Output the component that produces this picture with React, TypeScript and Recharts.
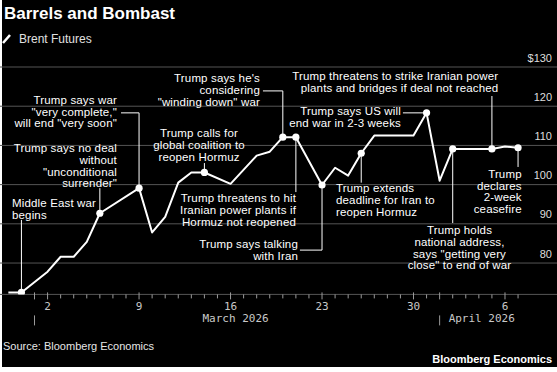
import React from 'react';
import { LineChart, Line, XAxis, YAxis, CartesianGrid, ReferenceLine, ReferenceDot } from 'recharts';

// ---- data ----
const dates = [
  '2026-02-27', '2026-02-28', '2026-03-02', '2026-03-03', '2026-03-04', '2026-03-05', '2026-03-06',
  '2026-03-09', '2026-03-10', '2026-03-11', '2026-03-12', '2026-03-13', '2026-03-14', '2026-03-16',
  '2026-03-18', '2026-03-19', '2026-03-20', '2026-03-21', '2026-03-23', '2026-03-24', '2026-03-25',
  '2026-03-26', '2026-03-27', '2026-03-30', '2026-03-31', '2026-04-01', '2026-04-02', '2026-04-05',
  '2026-04-06', '2026-04-07',
];
const brent = [
  72.5, 72.5, 77.8, 81.6, 81.6, 85.4, 92.7,
  99.1, 87.8, 91.8, 100.5, 103.1, 103.1, 100.2,
  107.4, 108.4, 112.1, 112.1, 99.9, 104.3, 102.3,
  108.0, 112.5, 112.5, 118.3, 101.0, 109.1, 109.1,
  109.7, 109.4,
];
const markedDates = [
  '2026-02-28', '2026-03-06', '2026-03-09', '2026-03-14', '2026-03-20', '2026-03-21',
  '2026-03-23', '2026-03-26', '2026-03-31', '2026-04-02', '2026-04-05', '2026-04-07',
];

const yTicks = [80, 90, 100, 110, 120, 130];
const yTickLabels = ['80', '90', '100', '110', '120', '$130'];

const xFirstTick = '2026-03-01';
const xLastTick = '2026-04-07';
const xLabelDates = ['2026-03-02', '2026-03-09', '2026-03-16', '2026-03-23', '2026-03-30', '2026-04-06'];
const xLabels = ['2', '9', '16', '23', '30', '6'];
const monthStartDates = ['2026-03-01', '2026-04-01'];
const monthLabelDates = ['2026-03-16', '2026-04-01'];
const monthLabels = ['March 2026', 'April 2026'];
const monthLabelAnchors = ['middle', 'start'];

// annotations: text position and leader points in (days since Mar 1, price)
const annotations = [
  { lines: ['Middle East war', 'begins'], anchor: 'start', at: [-1.72, 95.3], leader: [[-1, 91.0], [-1, 72.5]] },
  { lines: ['Trump says no deal', 'without', '"unconditional', 'surrender"'], anchor: 'end', at: [6.31, 109.3], leader: [[5, 99.1], [5, 92.7]] },
  { lines: ['Trump says war', '"very complete,"', 'will end "very soon"'], anchor: 'end', at: [6.31, 121.6], leader: [[6.62, 118.3], [8, 118.3], [8, 99.1]] },
  { lines: ["Trump says he's", 'considering', '"winding down" war'], anchor: 'end', at: [17.25, 127.1], leader: [[17.48, 123.9], [19, 123.9], [19, 112.1]] },
  { lines: ['Trump calls for', 'global coalition to', 'reopen Hormuz'], anchor: 'middle', at: [12.59, 113.1], leader: [[13, 105.5], [13, 103.1]] },
  { lines: ['Trump threatens to hit', 'Iranian power plants if', 'Hormuz not reopened'], anchor: 'end', at: [20.01, 96.5], leader: [[20, 112.1], [20, 98.1]] },
  { lines: ['Trump says talking', 'with Iran'], anchor: 'end', at: [20.16, 84.85], leader: [[22, 99.9], [22, 83.3], [20.31, 83.3]] },
  { lines: ['Trump extends', 'deadline for Iran to', 'reopen Hormuz'], anchor: 'start', at: [23.07, 99.06], leader: [[25, 108.0], [25, 100.5]] },
  { lines: ['Trump says US will', 'end war in 2-3 weeks'], anchor: 'end', at: [28.04, 118.8], leader: [[28.19, 118.3], [30, 118.3]] },
  { lines: ['Trump threatens to strike Iranian power', 'plants and bridges if deal not reached'], anchor: 'end', at: [35.49, 127.7], leader: [[35, 122.6], [35, 109.1]] },
  { lines: ['Trump holds', 'national address,', 'says "getting very', 'close" to end of war'], anchor: 'middle', at: [32.52, 88.4], leader: [[32, 109.1], [32, 90.2]] },
  { lines: ['Trump', 'declares', '2-week', 'ceasefire'], anchor: 'end', at: [37.28, 102.7], leader: [[37, 109.4], [37, 104.5]] },
];

// ---- helpers ----
const BASE = Date.parse('2026-03-01T00:00:00Z');
const dayOf = (s: string) => Math.round((Date.parse(s + 'T00:00:00Z') - BASE) / 86400000);

const data = dates.map((d, i) => ({ day: dayOf(d), price: brent[i], marked: markedDates.includes(d) }));
const xTicks: number[] = [];
for (let d = dayOf(xFirstTick); d <= dayOf(xLastTick); d++) xTicks.push(d);
const xLabelDays = xLabelDates.map(dayOf);
const monthStartDays = monthStartDates.map(dayOf);
const monthLabelDays = monthLabelDates.map(dayOf);

const SANS = '"Liberation Sans", Arial, sans-serif';
const MONO = '"DejaVu Sans Mono", monospace';
const LINE_H = 11.7;

const XTick = (props: any) => {
  const { x, y, payload } = props;
  const d = payload.value;
  const li = xLabelDays.indexOf(d);
  const ms = monthStartDays.indexOf(d);
  const ml = monthLabelDays.indexOf(d);
  const major = li >= 0 || ms >= 0;
  return (
    <g>
      <line x1={x} x2={x} y1={major ? y - 2 : y} y2={major ? y + 5 : y + 4} stroke="#9a9a9a" strokeWidth={1} />
      {li >= 0 && (
        <text x={x} y={y + 16} textAnchor="middle" fill="#c8c8c8" fontSize={11} fontFamily={MONO}>{xLabels[li]}</text>
      )}
      {ms >= 0 && <line x1={x} x2={x} y1={y + 21} y2={y + 31} stroke="#9a9a9a" strokeWidth={1} />}
      {ml >= 0 && (
        <text x={monthLabelAnchors[ml] === 'start' ? x + 9 : x + 5} y={y + 28} textAnchor={monthLabelAnchors[ml] as any} fill="#c8c8c8" fontSize={11} fontFamily={MONO}>{monthLabels[ml]}</text>
      )}
    </g>
  );
};

const YTick = (props: any) => {
  const { x, y, payload } = props;
  const i = yTicks.indexOf(payload.value);
  return (
    <text x={x} y={y - 5.5} textAnchor="end" fill="#dedede" fontSize={11} fontFamily={SANS}>{yTickLabels[i]}</text>
  );
};

const makeLabel = (a: typeof annotations[number]) => (p: any) => (
  <text x={p.cx} y={p.cy} dy="0.35em" textAnchor={a.anchor as any} fill="#ffffff" fontSize={11.5} letterSpacing={0.15} fontFamily={SANS}>
    {a.lines.map((l, i) => (
      <tspan key={i} x={p.cx} dy={i === 0 ? '0.35em' : LINE_H}>{l}</tspan>
    ))}
  </text>
);

const renderDot = (p: any) =>
  p.payload.marked ? <circle key={p.index} cx={p.cx} cy={p.cy} r={3.6} fill="#ffffff" /> : <g key={p.index} />;

export default function App() {
  return (
    <div style={{ position: 'absolute', left: 0, top: 0, width: 557, height: 372, background: '#ffffff', overflow: 'hidden' }}>
      <div style={{ position: 'absolute', left: 2, top: 0, width: 555, height: 367, background: '#000000' }} />
      <svg width={557} height={372} style={{ position: 'absolute', left: 0, top: 0 }}>
        <text x={4} y={19} fill="#ffffff" fontSize={17} fontWeight="bold" fontFamily={SANS}>Barrels and Bombast</text>
        <line x1={3} y1={43} x2={10} y2={35} stroke="#ffffff" strokeWidth={2.5} />
        <text x={19} y={43} fill="#e0e0e0" fontSize={12} fontFamily={SANS}>Brent Futures</text>
        <text x={3} y={349.5} fill="#e6e6e6" fontSize={11} fontFamily={SANS}>Source: Bloomberg Economics</text>
        <text x={552} y={363} textAnchor="end" fill="#ffffff" fontSize={11} fontWeight="bold" fontFamily={SANS}>Bloomberg Economics</text>
      </svg>
      <div style={{ position: 'absolute', left: 0, top: 0 }}>
        <LineChart width={557} height={372} data={data} margin={{ top: 67, right: 0, bottom: 47.6, left: 0 }}>
          <CartesianGrid horizontal={true} vertical={false} stroke="#555555" strokeWidth={1} />
          <XAxis
            dataKey="day"
            type="number"
            domain={[-2.64, 39.98]}
            allowDataOverflow
            ticks={xTicks}
            interval={0}
            height={30}
            axisLine={false}
            tickLine={false}
            tickSize={0}
            tickMargin={0}
            tick={<XTick />}
          />
          <YAxis
            orientation="right"
            mirror
            type="number"
            domain={[72, 130]}
            allowDataOverflow
            ticks={yTicks}
            interval={0}
            axisLine={false}
            tickLine={false}
            tickSize={0}
            tickMargin={5}
            tick={<YTick />}
          />
          {annotations.flatMap((a, ai) =>
            a.leader.slice(1).map((pt, si) => (
              <ReferenceLine
                key={`l${ai}-${si}`}
                segment={[{ x: a.leader[si][0], y: a.leader[si][1] }, { x: pt[0], y: pt[1] }]}
                stroke="#ffffff"
                strokeWidth={1}
                ifOverflow="visible"
              />
            ))
          )}
          <Line
            type="linear"
            dataKey="price"
            stroke="#ffffff"
            strokeWidth={2}
            strokeLinejoin="round"
            dot={renderDot}
            activeDot={false}
            isAnimationActive={false}
          />
          {annotations.map((a, ai) => (
            <ReferenceDot key={`t${ai}`} x={a.at[0]} y={a.at[1]} r={0} ifOverflow="visible" shape={makeLabel(a)} />
          ))}
        </LineChart>
      </div>
    </div>
  );
}
